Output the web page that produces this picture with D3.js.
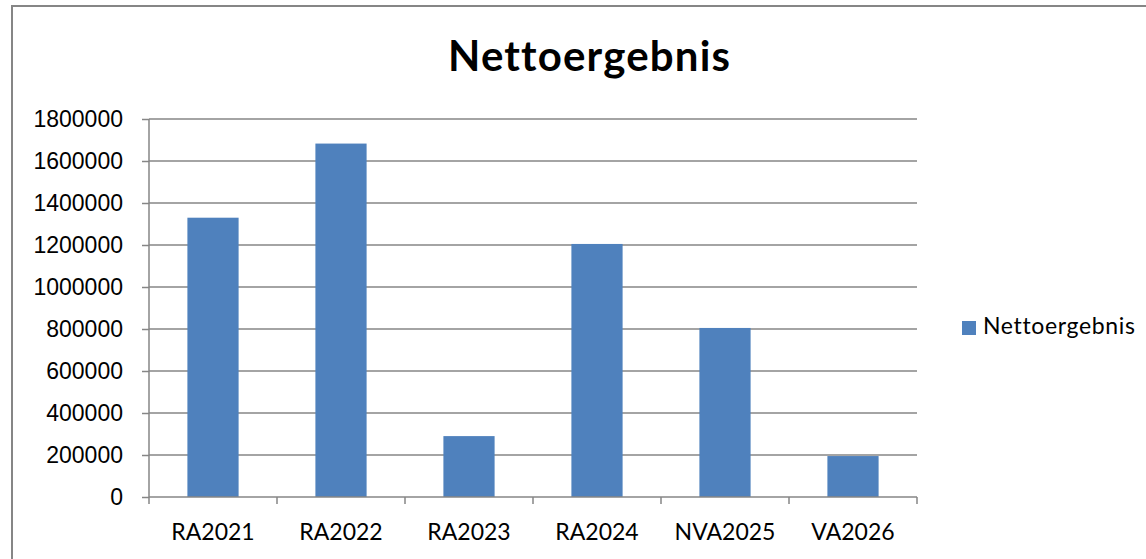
<!DOCTYPE html>
<html lang="de">
<head>
<meta charset="UTF-8">
<script src="https://d3js.org/d3.v7.min.js"></script>
<title>Nettoergebnis</title>
<style>
    body { margin: 0; background: #fff; }
    svg { display: block; font-family: Lato, "Open Sans", sans-serif; font-variant-ligatures: none; }
    .axis text { font-size: 23px; fill: #000; }
</style>
</head>
<body>
<div id="chart"></div>
<script>
    // data
    const categories = ["RA2021", "RA2022", "RA2023", "RA2024", "NVA2025", "VA2026"];
    const values = [1330000, 1683000, 290000, 1205000, 805000, 195000];
    const yTicks = [0, 200000, 400000, 600000, 800000, 1000000, 1200000, 1400000, 1600000, 1800000];
    const seriesName = "Nettoergebnis";

    const width = 1146, height = 559;
    const plot = { left: 149, right: 917, top: 119, bottom: 497 };
    const gray = "#868686";

    const svg = d3.select("#chart").append("svg")
        .attr("width", width)
        .attr("height", height);

    // chart frame
    svg.append("rect")
        .attr("x", 12).attr("y", 6)
        .attr("width", 1200).attr("height", 600)
        .attr("fill", "none")
        .attr("stroke", gray)
        .attr("stroke-width", 2);

    const x = d3.scaleBand()
        .domain(categories)
        .range([plot.left, plot.right])
        .paddingInner(0.6)
        .paddingOuter(0.3);

    const y = d3.scaleLinear()
        .domain([0, 1800000])
        .range([plot.bottom, plot.top]);

    // gridlines
    svg.append("g")
        .selectAll("line")
        .data(yTicks.slice(1))
        .join("line")
        .attr("x1", plot.left).attr("x2", plot.right)
        .attr("y1", d => y(d)).attr("y2", d => y(d))
        .attr("stroke", gray)
        .attr("stroke-width", 1.5);

    // bars
    svg.append("g")
        .selectAll("rect")
        .data(values)
        .join("rect")
        .attr("x", (d, i) => x(categories[i]))
        .attr("width", x.bandwidth())
        .attr("y", d => y(d))
        .attr("height", d => y(0) - y(d))
        .attr("fill", "#4F81BD");

    // y axis
    const yAxis = svg.append("g")
        .attr("class", "axis")
        .attr("transform", `translate(${plot.left},0)`)
        .call(d3.axisLeft(y).tickValues(yTicks).tickFormat(d3.format("d")).tickSize(7).tickPadding(19));
    yAxis.selectAll("line, path").attr("stroke", gray).attr("stroke-width", 1.5);
    yAxis.select("path").attr("d", `M0,${plot.top}V${plot.bottom}`);

    // x axis with ticks between categories
    const xAxis = svg.append("g")
        .attr("class", "axis")
        .attr("transform", `translate(0,${plot.bottom})`);
    xAxis.append("line")
        .attr("x1", plot.left).attr("x2", plot.right)
        .attr("stroke", gray).attr("stroke-width", 1.5);
    const step = x.step();
    xAxis.selectAll("line.tick")
        .data(d3.range(categories.length + 1))
        .join("line")
        .attr("class", "tick")
        .attr("x1", i => plot.left + i * step)
        .attr("x2", i => plot.left + i * step)
        .attr("y1", 0).attr("y2", 7)
        .attr("stroke", gray).attr("stroke-width", 1.5);
    xAxis.selectAll("text")
        .data(categories)
        .join("text")
        .attr("x", d => x(d) + x.bandwidth() / 2)
        .attr("y", 43)
        .attr("text-anchor", "middle")
        .text(d => d);

    // title
    svg.append("text")
        .attr("x", 589).attr("y", 71)
        .attr("text-anchor", "middle")
        .attr("font-size", 42)
        .attr("font-weight", "bold")
        .attr("textLength", 282)
        .attr("lengthAdjust", "spacing")
        .text(seriesName);

    // legend
    const legend = svg.append("g").attr("transform", "translate(962,321)");
    legend.append("rect")
        .attr("width", 14).attr("height", 14)
        .attr("fill", "#4F81BD");
    legend.append("text")
        .attr("x", 21).attr("y", 13)
        .attr("font-size", 23)
        .attr("textLength", 152)
        .attr("lengthAdjust", "spacing")
        .text(seriesName);
</script>
</body>
</html>
